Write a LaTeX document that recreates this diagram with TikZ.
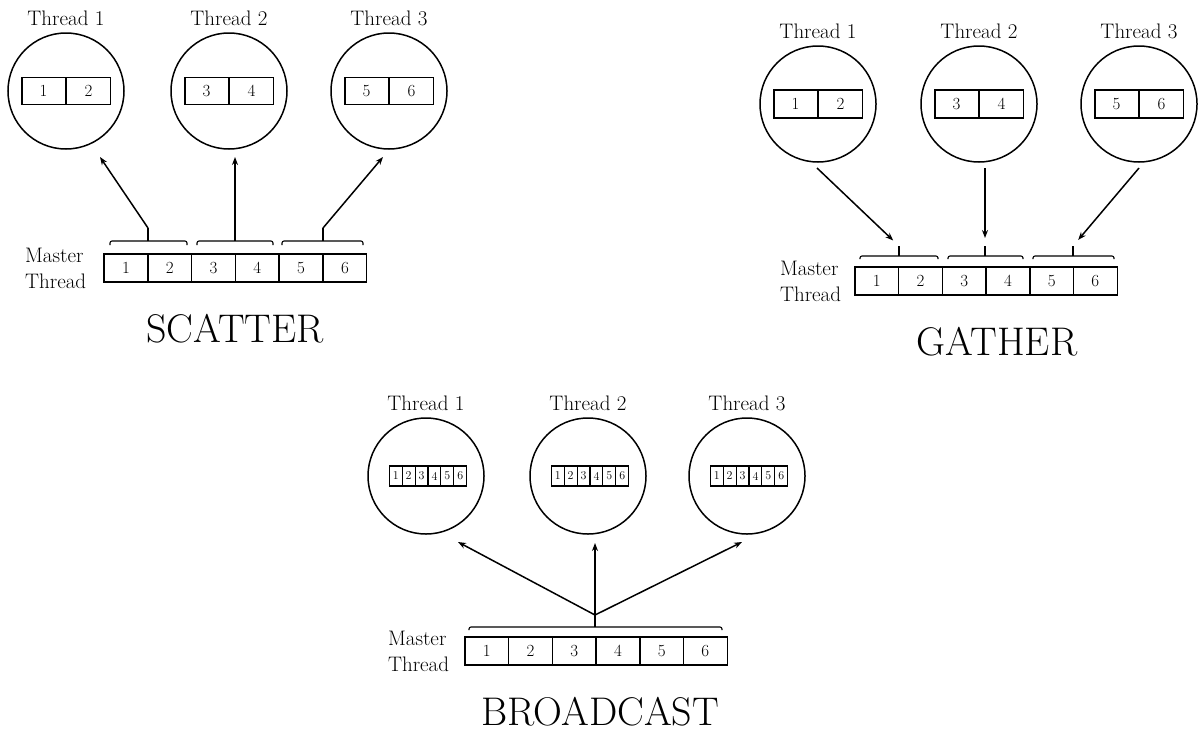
\documentclass[tikz,border=0pt]{standalone}
\usepackage{fontspec}
\usetikzlibrary{positioning,arrows.meta}

\tikzset{
  thread/.style={circle, draw, line width=1.5pt, minimum size=116pt, inner sep=0pt},
  cell/.style={draw, line width=1.4pt, minimum width=43.7pt, minimum height=28pt,
    inner sep=0pt, font=\fontsize{17}{17}\selectfont},
  small cell/.style={draw, line width=1.1pt, minimum width=12.9pt, minimum height=20pt,
    inner sep=0pt, font=\fontsize{12}{12}\selectfont},
  label/.style={inner sep=0pt, font=\fontsize{21}{26}\selectfont},
  title/.style={inner sep=0pt, font=\fontsize{40}{40}\selectfont},
  brace/.style={line width=1.1pt, rounded corners=2pt},
  link/.style={line width=1.5pt, -{Stealth[length=8pt,width=6pt]}},
}

\begin{document}
\begin{tikzpicture}[x=1pt,y=-1pt]
\useasboundingbox (0,0) rectangle (1198,731);

% ---------------- SCATTER ----------------
% Drawing thread circles with their labels
\foreach \n/\x in {1/66,2/229,3/389} {
  \node[thread] (s\n) at (\x,91) {};
  \node[label, anchor=base] (s\n l) at (\x,25) {Thread \n};
}
% Drawing the two cells inside each thread
\foreach \n in {1,2,3} {
  \pgfmathtruncatemacro\ca{2*\n-1}
  \pgfmathtruncatemacro\cb{2*\n}
  \node[cell, minimum width=43.5pt, minimum height=27pt, anchor=east] (s\n a) at (s\n.center) {\ca};
  \node[cell, minimum width=43.5pt, minimum height=27pt, anchor=west] (s\n b) at (s\n.center) {\cb};
}
% Drawing master array
\foreach \i in {1,...,6}
  \node[cell] (sm\i) at ({104+43.8*(\i-0.5)},268) {\i};
\node[label, align=left, anchor=east] (sml) at ([xshift=-17pt]sm1.west) {Master\\Thread};
\node[title, anchor=base] (stitle) at (235,342) {SCATTER};
% Drawing brackets and arrows
\foreach \l/\r/\m [count=\k] in {110/187/148, 197/273/235, 282/363/323} {
  \draw[brace] (\l,245) -- (\l,241) -- (\r,241) -- (\r,245);
  \draw[brace] (\m,241) -- (\m,228) coordinate (sk\k);
}
\coordinate (sa1) at (100,157);
\coordinate (sa2) at (235,157);
\coordinate (sa3) at (383,157);
\foreach \k in {1,2,3}
  \draw[link] (sk\k) -- (sa\k);

% ---------------- GATHER ----------------
% Drawing thread circles with their labels
\foreach \n/\x in {1/818,2/979,3/1139} {
  \node[thread] (g\n) at (\x,104) {};
  \node[label, anchor=base] (g\n l) at (\x,38) {Thread \n};
}
% Drawing the two cells inside each thread
\foreach \n in {1,2,3} {
  \pgfmathtruncatemacro\ca{2*\n-1}
  \pgfmathtruncatemacro\cb{2*\n}
  \node[cell, minimum width=43.5pt, minimum height=28pt, anchor=east] (g\n a) at (g\n.center) {\ca};
  \node[cell, minimum width=43.5pt, minimum height=28pt, anchor=west] (g\n b) at (g\n.center) {\cb};
}
% Drawing master array
\foreach \i in {1,...,6}
  \node[cell] (gm\i) at ({855+43.7*(\i-0.5)},281) {\i};
\node[label, align=left, anchor=east] (gml) at ([xshift=-13pt]gm1.west) {Master\\Thread};
\node[title, anchor=base] (gtitle) at (997,355) {GATHER};
% Drawing brackets and arrows
\foreach \l/\r/\m [count=\k] in {860/938/899, 948/1023/985, 1033/1114/1073} {
  \draw[brace] (\l,259) -- (\l,256) -- (\r,256) -- (\r,259);
  \draw[brace] (\m,256) -- (\m,246) coordinate (gk\k);
}
\coordinate (ga1) at (817,168);
\coordinate (ga2) at (985,168);
\coordinate (ga3) at (1139,168);
\foreach \k in {1,2,3}
  \draw[link, shorten >=8pt] (ga\k) -- (gk\k);

% ---------------- BROADCAST ----------------
% Drawing thread circles with their labels
\foreach \n/\x in {1/426,2/588,3/747} {
  \node[thread] (b\n) at (\x,476) {};
  \node[label, anchor=base] (b\n l) at (\x,410) {Thread \n};
}
% Drawing the six small cells inside each thread
\foreach \n in {1,2,3}
  \foreach \i in {1,...,6}
    \node[small cell] (b\n c\i) at ([xshift={(\i-3.5)*12.9pt+2pt}]b\n.center) {\i};
% Drawing master array
\foreach \i in {1,...,6}
  \node[cell] (bm\i) at ({465+43.7*(\i-0.5)},651) {\i};
\node[label, align=left, anchor=east] (bml) at ([xshift=-15pt]bm1.west) {Master\\Thread};
\node[title, anchor=base] (btitle) at (600,725) {BROADCAST};
% Drawing bracket and arrows
\draw[brace] (469,630) -- (469,627) -- (722,627) -- (722,630);
\draw[brace] (595,627) -- (595,615) coordinate (bk);
\coordinate (ba1) at (458,542);
\coordinate (ba2) at (595,543);
\coordinate (ba3) at (742,542);
\foreach \k in {1,2,3}
  \draw[link] (bk) -- (ba\k);
\end{tikzpicture}
\end{document}
